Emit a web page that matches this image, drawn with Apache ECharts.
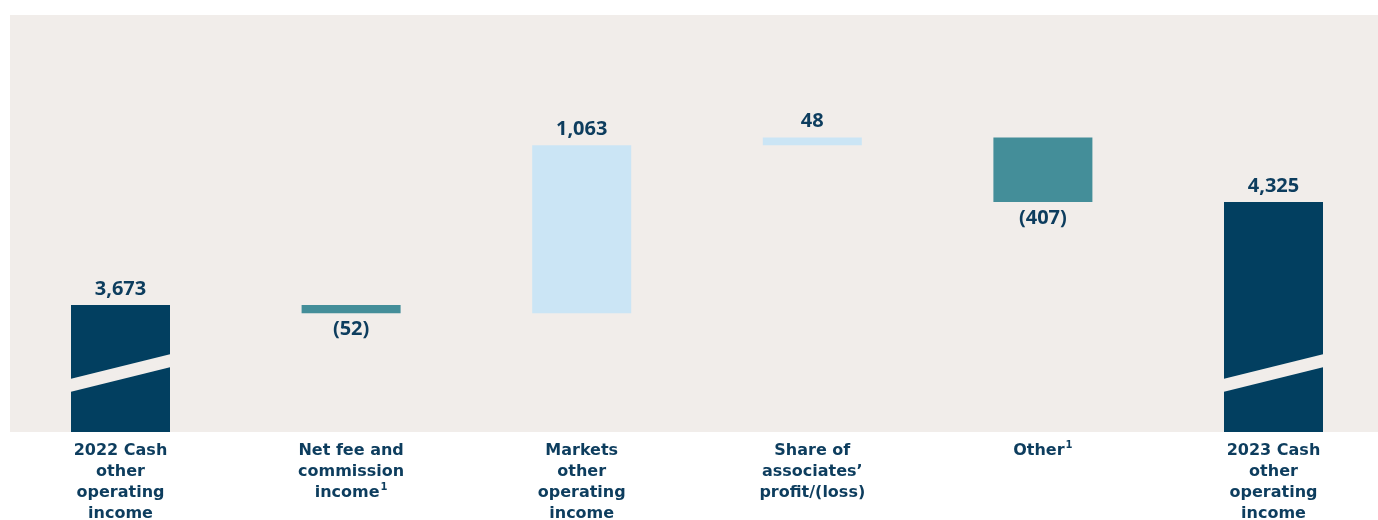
<!DOCTYPE html>
<html><head><meta charset="utf-8">
<script src="https://cdn.jsdelivr.net/npm/echarts@6/dist/echarts.min.js"></script>
<style>html,body{margin:0;padding:0;background:#fff}#c{width:1378px;height:520px}</style>
</head><body><div id="c"></div>
<script>
const categories = ['2022 Cash\nother\noperating\nincome', 'Net fee and\ncommission\nincome{sup|1}', 'Markets\nother\noperating\nincome', 'Share of\nassociates’\nprofit/(loss)', 'Other{sup|1}', '2023 Cash\nother\noperating\nincome'];
const values = [3673, -52, 1063, 48, -407, 4325];
const kinds = ['total', 'delta', 'delta', 'delta', 'delta', 'total'];
const yMin = 2869, yMax = 5508;

const NAVY = '#023f60', TEAL = '#448e99', LIGHT = '#cbe5f5', BG = '#f1edea', TXT = '#0d3d5e';

// build waterfall
let running = 0;
const baseData = [], barData = [];
values.forEach((v, i) => {
  if (kinds[i] === 'total') {
    running = v;
    baseData.push(0);
    barData.push({value: v, itemStyle: {color: NAVY}, label: {position: 'top', formatter: v.toLocaleString('en-US')}});
  } else {
    const start = running, end = running + v;
    running = end;
    baseData.push(Math.min(start, end));
    barData.push({value: Math.abs(v),
      itemStyle: {color: v < 0 ? TEAL : LIGHT},
      label: {position: v < 0 ? 'bottom' : 'top',
        formatter: v < 0 ? '(' + Math.abs(v).toLocaleString('en-US') + ')' : v.toLocaleString('en-US')}});
  }
});
const breakData = kinds.map((k, i) => k === 'total' ? [i, yMin] : null).filter(x => x !== null);

const chart = echarts.init(document.getElementById('c'), null, {renderer: 'canvas'});
chart.setOption({
  animation: false,
  graphic: [{type: 'rect', z: -10, shape: {x: 10, y: 15, width: 1368, height: 417}, style: {fill: BG}}],
  grid: {left: 120.5, right: 104.5, top: 15, bottom: 88, containLabel: false, outerBoundsMode: 'none'},
  xAxis: {
    type: 'category', data: categories, boundaryGap: false,
    axisLine: {show: false}, axisTick: {show: false}, splitLine: {show: false},
    axisLabel: {
      interval: 0, margin: 8, color: TXT, fontFamily: 'DejaVu Sans', fontWeight: 'bold', fontSize: 16, lineHeight: 21,
      rich: {sup: {fontSize: 10, fontFamily: 'DejaVu Sans', fontWeight: 'bold', color: TXT, verticalAlign: 'top', padding: [0, 0, 8, 1]}}
    }
  },
  yAxis: {type: 'value', min: yMin, max: yMax, show: false, splitLine: {show: false}},
  series: [
    {type: 'bar', stack: 'w', data: baseData, barWidth: 99, itemStyle: {color: 'transparent'}, silent: true},
    {type: 'bar', stack: 'w', data: barData, barWidth: 99,
      label: {show: true, color: TXT, fontFamily: 'Open Sans', fontWeight: 700, fontSize: 20, distance: 6}},
    {type: 'custom', z: 5, data: breakData, encode: {x: 0, y: 1}, clip: false,
      renderItem: function (params, api) {
        const p = api.coord([api.value(0), api.value(1)]);
        const w = 99;
        const x0 = p[0] - w / 2 - 1, x1 = p[0] + w / 2 + 1, y = p[1];
        return {type: 'polygon', shape: {points: [[x0, y - 53], [x1, y - 78], [x1, y - 65], [x0, y - 40]]},
          style: {fill: BG}};
      }}
  ]
});
</script></body></html>
